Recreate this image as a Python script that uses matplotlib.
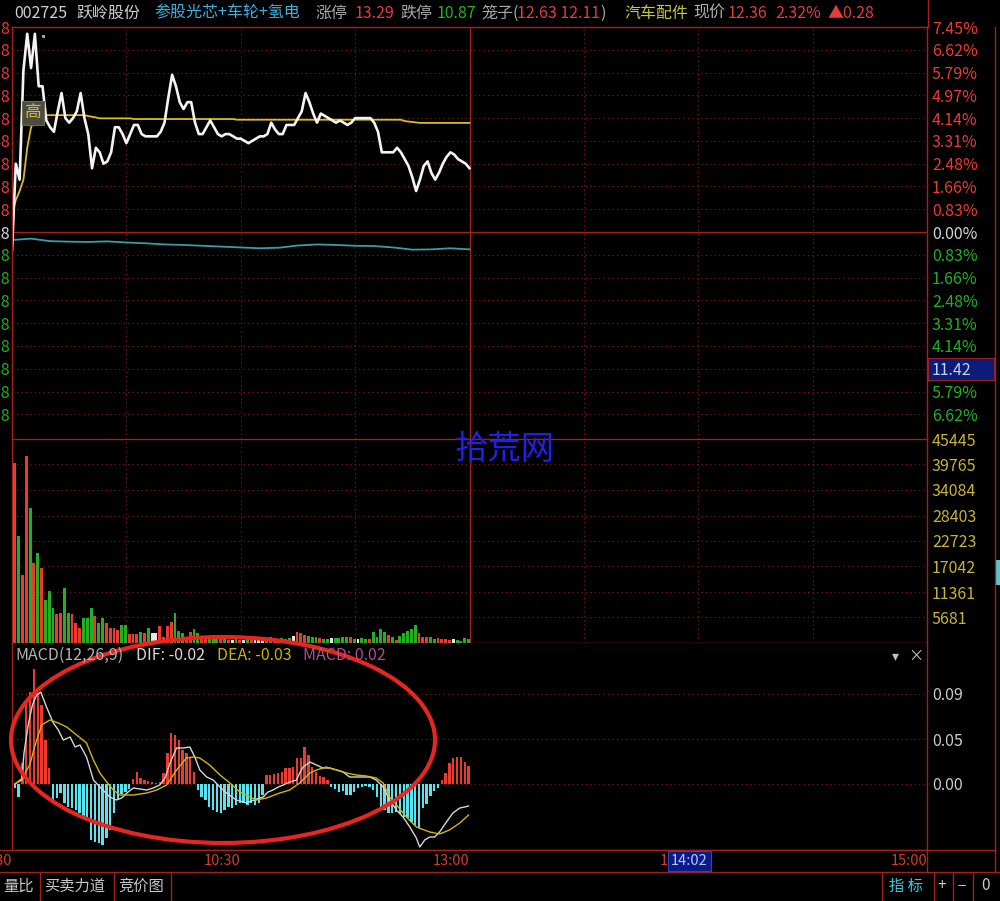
import matplotlib
matplotlib.use('Agg')
import matplotlib.pyplot as plt
import matplotlib.transforms as mtransforms
from matplotlib.patches import Ellipse, Rectangle
import numpy as np

plt.rcParams['font.family'] = ['Noto Sans CJK SC', 'DejaVu Sans']

# ---- data ----
prev_close = 12.08

price = [12.00, 12.38, 12.31, 12.79, 12.95, 12.80, 12.95, 12.72, 12.72, 12.57,
         12.54, 12.52, 12.61, 12.69, 12.58, 12.56, 12.58, 12.61, 12.69, 12.58,
         12.51, 12.36, 12.45, 12.43, 12.38, 12.39, 12.43, 12.54, 12.54, 12.51,
         12.47, 12.51, 12.55, 12.55, 12.51, 12.50, 12.50, 12.50, 12.50, 12.52,
         12.56, 12.67, 12.77, 12.72, 12.65, 12.62, 12.65, 12.65, 12.56, 12.51,
         12.51, 12.54, 12.57, 12.54, 12.51, 12.50, 12.51, 12.51, 12.50, 12.49,
         12.49, 12.48, 12.47, 12.48, 12.49, 12.50, 12.50, 12.51, 12.56, 12.53,
         12.51, 12.51, 12.55, 12.55, 12.55, 12.58, 12.61, 12.69, 12.65, 12.60,
         12.56, 12.60, 12.59, 12.58, 12.57, 12.56, 12.57, 12.56, 12.55, 12.56,
         12.58, 12.58, 12.58, 12.58, 12.58, 12.56, 12.52, 12.43, 12.43, 12.43,
         12.43, 12.45, 12.43, 12.40, 12.37, 12.32, 12.26, 12.31, 12.37, 12.39,
         12.34, 12.31, 12.34, 12.38, 12.41, 12.43, 12.42, 12.40, 12.39, 12.38,
         12.36]

avg_price = [12.16, 12.22, 12.26, 12.31, 12.45, 12.54, 12.57, 12.585, 12.593, 12.593,
             12.593, 12.593, 12.593, 12.593, 12.593, 12.593, 12.593, 12.593, 12.593, 12.593,
             12.589, 12.586, 12.583, 12.579, 12.579, 12.579, 12.579, 12.579, 12.579, 12.579,
             12.579, 12.579, 12.576, 12.576, 12.576, 12.576, 12.576, 12.576, 12.576, 12.576,
             12.576, 12.576, 12.576, 12.576, 12.576, 12.576, 12.576, 12.576, 12.576, 12.576,
             12.576, 12.576, 12.576, 12.576, 12.576, 12.576, 12.576, 12.576, 12.576, 12.573,
             12.573, 12.573, 12.573, 12.573, 12.573, 12.573, 12.573, 12.573, 12.573, 12.573,
             12.573, 12.573, 12.573, 12.573, 12.573, 12.573, 12.573, 12.573, 12.573, 12.573,
             12.573, 12.573, 12.573, 12.573, 12.573, 12.573, 12.573, 12.573, 12.573, 12.573,
             12.573, 12.573, 12.573, 12.573, 12.573, 12.573, 12.573, 12.573, 12.573, 12.573,
             12.573, 12.573, 12.573, 12.567, 12.565, 12.563, 12.561, 12.559, 12.559, 12.559,
             12.559, 12.559, 12.559, 12.559, 12.559, 12.559, 12.559, 12.559, 12.559, 12.559,
             12.559]

index_minute = [0, 5, 10, 15, 20, 25, 30, 35, 40, 45, 50, 55, 60,
                65, 70, 75, 80, 85, 90, 95, 100, 105, 110, 115, 120]
index_pct = [-0.29, -0.24, -0.33, -0.35, -0.36, -0.34, -0.38, -0.41, -0.45, -0.47, -0.50, -0.53, -0.56,
             -0.59, -0.57, -0.49, -0.45, -0.47, -0.50, -0.51, -0.56, -0.64, -0.63, -0.59, -0.63]

volume = [40170, 23840, 15150, 41660, 30010, 17750, 19980, 16640, 9580, 11590,
          7870, 6390, 6610, 12330, 6760, 6390, 4530, 3420, 5640, 5640,
          7870, 6010, 4530, 5490, 4530, 3270, 3270, 2900, 4010, 4010,
          2000, 2000, 2000, 2530, 2300, 3270, 2150, 2300, 3790, 1410,
          3790, 4750, 6760, 2750, 2300, 1410, 2530, 3040, 2300, 1410,
          820, 1040, 1410, 1040, 820, 820, 670, 670, 820, 670,
          670, 820, 670, 560, 560, 670, 1040, 1410, 1040, 820,
          1040, 820, 1040, 1560, 2530, 2150, 1780, 1560, 1410, 1410,
          1040, 890, 820, 1040, 1040, 1040, 1410, 1410, 1260, 820,
          820, 1040, 820, 820, 2530, 1410, 3040, 2530, 1780, 1410,
          670, 1560, 2300, 2750, 3040, 4010, 2150, 1260, 1260, 1410,
          890, 1040, 820, 820, 670, 820, 670, 450, 1040, 820]
vol_side = ("rgrrgrgrgg" "grrggrrrgg" "grggrrrrgg" "rrrgrgwwrr"
            "rrgggrrggr" "rgggrgrwgr" "wgrwwwggrr" "grgwrrrggg"
            "rggwggggrg" "wggrggggrg" "rgggggrrrg" "grrrrwgggg")

macd_hist = [-0.004, -0.013, 0.021, 0.082, 0.092, 0.115, 0.091, 0.079, 0.044, 0.016,
             -0.016, -0.014, -0.009, -0.019, -0.023, -0.024, -0.026, -0.029, -0.033, -0.036,
             -0.056, -0.058, -0.059, -0.061, -0.054, -0.046, -0.029, -0.016, -0.010, -0.008,
             -0.005, 0.005, 0.012, 0.006, 0.004, 0.003, 0.002, 0.001, 0.002, 0.011,
             0.031, 0.051, 0.049, 0.044, 0.034, 0.031, 0.026, 0.012, -0.006, -0.013,
             -0.016, -0.023, -0.026, -0.028, -0.029, -0.026, -0.023, -0.024, -0.021, -0.019,
             -0.019, -0.021, -0.019, -0.021, -0.019, -0.011, 0.009, 0.009, 0.010, 0.011,
             0.012, 0.016, 0.016, 0.017, 0.026, 0.026, 0.037, 0.029, 0.017, 0.012,
             0.008, 0.007, 0.004, -0.003, -0.005, -0.008, -0.007, -0.011, -0.011, -0.008,
             -0.004, -0.003, -0.002, -0.003, -0.006, -0.013, -0.023, -0.026, -0.029, -0.029,
             -0.028, -0.030, -0.033, -0.034, -0.038, -0.041, -0.044, -0.024, -0.020, -0.012,
             -0.007, -0.004, 0.004, 0.011, 0.021, 0.026, 0.027, 0.027, 0.022, 0.018]

dif_t = [0, 1.8, 2.4, 3.5, 4.6, 5.7, 6.8, 8.3, 10.1, 11.4, 12.7, 14.5, 15.8, 17.1, 18.8,
         20.6, 22.3, 24.9, 26.7, 28.0, 29.7, 31.1, 32.8, 34.6, 36.3, 38.0, 39.4, 40.7, 42.4,
         44.2, 45.9, 47.2, 48.5, 50.3, 52.0, 53.8, 55.5, 58.1, 60.8, 63.4, 65.1, 66.4, 67.7,
         69.1, 70.4, 72.1, 73.9, 74.7, 75.6, 77.4, 79.1, 80.8, 82.6, 84.4, 86.1, 87.8, 89.6,
         91.3, 93.1, 94.8, 96.6, 98.3, 100.1, 101.8, 103.6, 105.3, 106.2, 107.5, 108.8, 110.1,
         111.4, 113.2, 114.9, 116.7, 118.0, 119.0]
dif_val = [0.000, 0.004, 0.031, 0.059, 0.079, 0.089, 0.092, 0.077, 0.061, 0.054, 0.044, 0.047,
           0.037, 0.039, 0.027, 0.004, -0.003, -0.013, -0.016, -0.014, -0.008, -0.004, -0.005,
           -0.006, -0.004, -0.001, 0.006, 0.021, 0.036, 0.036, 0.037, 0.027, 0.014, 0.007, 0.004,
           -0.003, -0.009, -0.016, -0.019, -0.015, -0.013, -0.008, -0.006, -0.003, -0.001, 0.002,
           0.004, 0.011, 0.017, 0.022, 0.019, 0.016, 0.016, 0.014, 0.012, 0.007, 0.007, 0.007,
           0.007, 0.004, -0.003, -0.016, -0.026, -0.033, -0.043, -0.054, -0.063, -0.056, -0.053,
           -0.053, -0.048, -0.038, -0.029, -0.024, -0.023, -0.022]

dea_t = [0, 2, 4, 5, 7.0, 9.2, 11.4, 13.6, 16.2, 18.8, 20.6, 22.3, 24.1, 25.8, 27.6, 31.1,
         34.6, 37.2, 39.8, 42.4, 45.0, 46.8, 48.5, 51.1, 53.8, 56.4, 59.0, 61.6, 63.4, 66.0,
         69.5, 72.1, 74.7, 77.4, 79.1, 81.7, 84.4, 87.0, 89.6, 92.2, 94.8, 96.6, 98.3, 100.1,
         102.7, 105.3, 108.8, 111.4, 114.0, 116.7, 119.0]
dea_val = [0.000, 0.006, 0.020, 0.035, 0.059, 0.064, 0.061, 0.057, 0.049, 0.041, 0.024, 0.011,
           0.002, -0.006, -0.011, -0.011, -0.009, -0.006, -0.001, 0.014, 0.026, 0.027, 0.026,
           0.019, 0.009, 0.001, -0.008, -0.013, -0.016, -0.014, -0.009, -0.006, 0.001, 0.011,
           0.014, 0.017, 0.014, 0.011, 0.009, 0.008, 0.006, 0.001, -0.013, -0.021, -0.033,
           -0.043, -0.048, -0.050, -0.046, -0.039, -0.031]

price_labels = ['12.98', '12.88', '12.78', '12.68', '12.58', '12.48', '12.38', '12.28', '12.18',
                '12.08', '11.98', '11.88', '11.78', '11.68', '11.58', '11.48', '11.38', '11.28']
pct_labels = ['7.45%', '6.62%', '5.79%', '4.97%', '4.14%', '3.31%', '2.48%', '1.66%', '0.83%',
              '0.00%', '0.83%', '1.66%', '2.48%', '3.31%', '4.14%', '11.42', '5.79%', '6.62%']
vol_ticks = [45445, 39765, 34084, 28403, 22723, 17042, 11361, 5681]
macd_ticks = [0.09, 0.045, 0.0]
macd_labels = ['0.09', '0.05', '0.00']
time_ticks = [0, 60, 120, 240]
time_labels = ['9:30', '10:30', '13:00', '15:00']

# ---- layout (pixel boxes) ----
W, H = 1000, 901
fig = plt.figure(figsize=(W / 100, H / 100), dpi=100, facecolor='black')


def px_rect(x0, y0, x1, y1):
    return [x0 / W, 1 - y1 / H, (x1 - x0) / W, (y1 - y0) / H]


RED = '#a81e1e'
DOT = '#901a1a'
dot = (0, (1, 3))
UP = '#ec3a30'
DOWN = '#22b022'
CYAN = '#58e4ee'

ax_p = fig.add_axes(px_rect(12, 27, 927, 439))
ax_v = fig.add_axes(px_rect(12, 439, 927, 643))
ax_m = fig.add_axes(px_rect(12, 643, 927, 850))

for ax in (ax_p, ax_v, ax_m):
    ax.set_facecolor('black')
    ax.set_xlim(0, 240)
    for s in ax.spines.values():
        s.set_color(RED)
        s.set_linewidth(1.0)
    ax.tick_params(length=0)
    ax.set_xticks([])
    for m in (30, 60, 90, 150, 180, 210):
        if ax is not ax_m:
            ax.axvline(m, color=DOT, lw=0.8, ls=dot, zorder=1)
ax_p.spines['bottom'].set_visible(False)
ax_m.spines['top'].set_visible(False)

# ---- price panel ----
pct_step = 7.45 / 9
tick_pos = [k * pct_step for k in range(9, -9, -1)]
ax_p.set_ylim(-7.52, 7.45)
for k in range(-8, 9):
    if k == 0:
        ax_p.axhline(0, color=RED, lw=1.0, zorder=1)
    else:
        ax_p.axhline(k * pct_step, color=DOT, lw=0.8, ls=dot, zorder=1)
ax_p.axvline(120, color=RED, lw=1.0, zorder=1)

t = np.arange(len(price))
ax_p.plot(index_minute, index_pct, color='#3a9ca8', lw=1.3, zorder=3)
ax_p.plot(t, (np.array(avg_price) / prev_close - 1) * 100, color='#d4be22', lw=1.3, zorder=4)
ax_p.plot(t, (np.array(price) / prev_close - 1) * 100, color='#f4f4f4', lw=1.9, zorder=5)


def side_color(k):
    return UP if k > 0 else ('#d8d8d8' if k == 0 else DOWN)


ax_p.set_yticks(tick_pos)
ax_p.set_yticklabels(price_labels, fontsize=11.5)
ax_p.tick_params(axis='y', pad=1.2)
for lbl, k in zip(ax_p.get_yticklabels(), range(9, -9, -1)):
    lbl.set_color(side_color(k))

ax_r = ax_p.twinx()
ax_r.set_ylim(ax_p.get_ylim())
for s in ax_r.spines.values():
    s.set_color(RED)
ax_r.spines['bottom'].set_visible(False)
ax_r.set_yticks(tick_pos)
ax_r.set_yticklabels(pct_labels, fontsize=11.5)
ax_r.tick_params(length=0, pad=3.5)
for lbl, k in zip(ax_r.get_yticklabels(), range(9, -9, -1)):
    lbl.set_color(side_color(k))
# crosshair price box
ax_r.get_yticklabels()[15].set_color('#c8d2ee')
tr = mtransforms.blended_transform_factory(ax_r.transAxes, ax_r.transData)
ax_r.add_patch(Rectangle((1.001, tick_pos[15] - 0.40), 66 / 915, 0.80, transform=tr,
                         clip_on=False, facecolor='#0c1c78', edgecolor='#9a2020', lw=0.8, zorder=0.5))

# ---- volume panel ----
side_map = {'r': UP, 'g': DOWN, 'w': '#e6e6e6'}
ax_v.set_ylim(0, 45445)
for v in vol_ticks[1:]:
    ax_v.axhline(v, color=DOT, lw=0.8, ls=dot, zorder=1)
ax_v.axvline(120, color=RED, lw=1.0, zorder=1)
ax_v.bar(np.arange(len(volume)) + 0.75, volume, width=0.75,
         color=[side_map[c] for c in vol_side], zorder=3)
ax_v.yaxis.tick_right()
ax_v.set_yticks(vol_ticks)
ax_v.set_yticklabels([str(v) for v in vol_ticks], fontsize=11.5, color='#c8b432')
ax_v.tick_params(axis='y', length=0, pad=3.5)

# ---- MACD panel ----
ax_m.set_ylim(-0.066, 0.141)
for v in macd_ticks:
    ax_m.axhline(v, color=DOT, lw=0.8, ls=dot, zorder=1)
xb = np.arange(len(macd_hist)) + 0.75
ax_m.bar(xb, macd_hist, width=0.62, color=[UP if v >= 0 else CYAN for v in macd_hist], zorder=3)
ax_m.plot(np.array(dif_t) + 0.75, dif_val, color='#d6d6d6', lw=1.0, zorder=4)
ax_m.plot(np.array(dea_t) + 0.75, dea_val, color='#d2b414', lw=1.0, zorder=4)
ax_m.yaxis.tick_right()
ax_m.set_yticks(macd_ticks)
ax_m.set_yticklabels(macd_labels, fontsize=11.5, color='#cccccc')
ax_m.tick_params(axis='y', length=0, pad=3.5)
ax_m.set_xticks(time_ticks)
ax_m.set_xticklabels(time_labels, fontsize=10.5, color='#d23a30')
for lbl in ax_m.get_xticklabels():
    lbl.set_ha('right')
ax_m.tick_params(axis='x', length=0, pad=3)

# cursor time box (covers the 14:00 label, only its leading "1" shows)
tm = mtransforms.blended_transform_factory(ax_m.transData, ax_m.transAxes)
ax_m.text(172.0, -0.052, '1', transform=tm, clip_on=False, ha='right', va='center',
          fontsize=10.5, color='#d23a30')
ax_m.add_patch(Rectangle((172.1, -0.101), 11.2, 0.097, transform=tm, clip_on=False,
                         facecolor='#0a1a8a', edgecolor='#3048b0', lw=0.8, zorder=5))
ax_m.text(177.7, -0.052, '14:02', transform=tm, clip_on=False, ha='center', va='center',
          fontsize=10.5, color='#b8c8f0', zorder=6)

# ---- overlay: header, frame, annotations ----
ov = fig.add_axes([0, 0, 1, 1])
ov.set_xlim(0, W)
ov.set_ylim(H, 0)
ov.axis('off')
ov.set_zorder(10)

header = [(14, '002725', '#d0d0d0'), (76, '跃岭股份', '#d0d0d0'),
          (154, '参股光芯+车轮+氢电', '#3fb0e0'),
          (315, '涨停', '#a8a8a8'), (355, '13.29', '#e23c3c'),
          (400, '跌停', '#a8a8a8'), (437, '10.87', '#22b422'),
          (481, '笼子(', '#a8a8a8'), (517, '12.63 12.11', '#e23c3c'), (600, ')', '#a8a8a8'),
          (624, '汽车配件', '#c8c832'), (693, '现价', '#b0b0b0'),
          (728, '12.36', '#e23c3c'), (775, '2.32%', '#e23c3c'), (828, '▲0.28', '#e23c3c')]
for x, s, c in header:
    ov.text(x, 13, s, color=c, fontsize=11.5, ha='left', va='center')

macd_head = [(15, 'MACD(12,26,9)', '#b4b4b4'), (136, 'DIF: -0.02', '#d8d8d8'),
             (217, 'DEA: -0.03', '#c8b400'), (303, 'MACD: 0.02', '#b0508c')]
for x, s, c in macd_head:
    ov.text(x, 655, s, color=c, fontsize=11.5, ha='left', va='center')
ov.text(895, 656, '▾', color='#c0c0c0', fontsize=10, ha='center', va='center')
ov.text(916, 656, '×', color='#c0c0c0', fontsize=11, ha='center', va='center')

# frame lines
ov.plot([928, 928], [0, 27], color=RED, lw=1.0)
ov.plot([995, 995], [27, 872], color=RED, lw=1.0)
ov.plot([0, 995], [850, 850], color=RED, lw=1.0)
ov.plot([0, 1000], [872, 872], color=RED, lw=1.0)
ov.plot([927, 927], [850, 872], color=RED, lw=1.0)

# bottom toolbar
for x, s in [(3, '量比'), (44, '买卖力道'), (118, '竞价图')]:
    ov.text(x, 886, s, color='#c8c8c8', fontsize=11, ha='left', va='center')
ov.text(906, 886, '指 标', color='#40c8e0', fontsize=11, ha='center', va='center')
for x, s in [(942, '+'), (962, '−'), (985, '0')]:
    ov.text(x, 886, s, color='#c8c8c8', fontsize=11, ha='center', va='center')
for x in (40, 114, 171, 882, 934, 953, 973):
    ov.plot([x, x], [872, 901], color=RED, lw=1.0)

# "high" tag and small marker
ov.add_patch(Rectangle((22, 101), 22, 24, facecolor='#4c4c3c', edgecolor='#6c6c50', lw=0.8))
ov.text(33, 113, '高', color='#d8b848', fontsize=12, ha='center', va='center')
ov.add_patch(Rectangle((42, 35), 3, 3, facecolor='#a0a0a0', edgecolor='none'))
ov.add_patch(Rectangle((996, 560), 4, 25, facecolor='#50c8d0', edgecolor='none'))

# watermark and hand-drawn circle
ov.text(505, 450, '拾荒网', color='#2020e6', fontsize=24, fontweight='light',
        ha='center', va='center')
ov.add_patch(Ellipse((223, 740), 424, 206, fill=False, edgecolor='#e6261f', lw=3.0))

fig.savefig('out.png', dpi=100, facecolor='black')
